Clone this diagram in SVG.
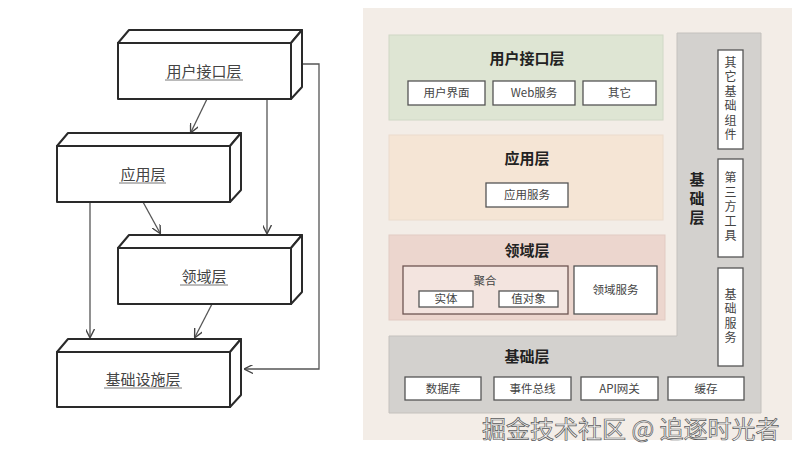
<svg xmlns="http://www.w3.org/2000/svg" width="807" height="459" viewBox="0 0 807 459">
<defs>
<style>
.cjk{font-family:"Noto Sans CJK SC","Liberation Sans",sans-serif}
.box3d{fill:#fff;stroke:#2a2a2a;stroke-width:2;stroke-linejoin:round}
.ltxt{font-size:15px;fill:#444;text-anchor:middle}
.ul{stroke:#777;stroke-width:1}
.conn{fill:none;stroke:#555;stroke-width:1.3}
.ttl{font-size:15px;font-weight:bold;fill:#222;text-anchor:middle}
.sb{fill:#fff;stroke:#555;stroke-width:1.3}
.st{font-size:11.5px;fill:#444;text-anchor:middle}
.vt{font-size:12px;fill:#444;text-anchor:middle;writing-mode:vertical-rl;letter-spacing:2.5px}
</style>
<marker id="arr" viewBox="0 0 10 10" refX="9" refY="5" markerWidth="9" markerHeight="9" orient="auto" markerUnits="userSpaceOnUse">
<path d="M0,0 L10,5 L0,10" fill="none" stroke="#444" stroke-width="1.5"/>
</marker>
</defs>
<rect width="807" height="459" fill="#fff"/>

<!-- Left: layered architecture -->
<g id="connectors" class="conn">
<line x1="207" y1="99" x2="191" y2="132" marker-end="url(#arr)"/>
<line x1="267" y1="99" x2="267" y2="233" marker-end="url(#arr)"/>
<polyline points="302,64 319,64 319,369 245,369" marker-end="url(#arr)"/>
<line x1="90" y1="202" x2="90" y2="337" marker-end="url(#arr)"/>
<line x1="143" y1="202" x2="160" y2="233" marker-end="url(#arr)"/>
<line x1="212" y1="304" x2="195" y2="337" marker-end="url(#arr)"/>
</g>

<g id="node-ui" class="cjk">
<path class="box3d" d="M118,43 L129,30 L302,30 L291,43 Z"/>
<path class="box3d" d="M291,43 L302,30 L302,87 L291,99 Z"/>
<rect class="box3d" x="118" y="43" width="173" height="56"/>
<text class="ltxt" x="204" y="77">用户接口层</text>
<line class="ul" x1="165" y1="80" x2="243" y2="80"/>
</g>

<g id="node-app" class="cjk">
<path class="box3d" d="M57,146 L68,133 L241,133 L230,146 Z"/>
<path class="box3d" d="M230,146 L241,133 L241,190 L230,202 Z"/>
<rect class="box3d" x="57" y="146" width="173" height="56"/>
<text class="ltxt" x="143" y="180">应用层</text>
<line class="ul" x1="119" y1="183" x2="166" y2="183"/>
</g>

<g id="node-domain" class="cjk">
<path class="box3d" d="M118,248 L129,235 L302,235 L291,248 Z"/>
<path class="box3d" d="M291,248 L302,235 L302,292 L291,304 Z"/>
<rect class="box3d" x="118" y="248" width="173" height="56"/>
<text class="ltxt" x="204" y="282">领域层</text>
<line class="ul" x1="180" y1="285" x2="228" y2="285"/>
</g>

<g id="node-infra" class="cjk">
<path class="box3d" d="M57,352 L68,339 L241,339 L230,352 Z"/>
<path class="box3d" d="M230,352 L241,339 L241,395 L230,407 Z"/>
<rect class="box3d" x="57" y="352" width="173" height="55"/>
<text class="ltxt" x="143" y="385">基础设施层</text>
<line class="ul" x1="104" y1="388" x2="182" y2="388"/>
</g>

<!-- Right: DDD layered panel -->
<g id="panel">
<rect x="363" y="8" width="429" height="432" fill="#f3ede7"/>
<path d="M677,33 L761,33 L761,413 L389,413 L389,336 L677,336 Z" fill="#d3d1ce" stroke="#c4c1bd" stroke-width="1"/>
</g>

<g id="layer-ui" class="cjk">
<rect x="389" y="35" width="274" height="85" fill="#dee5d3" stroke="#d0d8c6" stroke-width="1"/>
<text class="ttl" x="527" y="64">用户接口层</text>
<rect class="sb" x="408" y="81" width="77" height="24"/>
<text class="st" x="446.5" y="97">用户界面</text>
<rect class="sb" x="493" y="81" width="82" height="24"/>
<text class="st" x="534" y="97">Web服务</text>
<rect class="sb" x="583" y="81" width="73" height="24"/>
<text class="st" x="619.5" y="97">其它</text>
</g>

<g id="layer-app" class="cjk">
<rect x="389" y="135" width="274" height="85" fill="#f5e5d5" stroke="#ebdccd" stroke-width="1"/>
<text class="ttl" x="527" y="164">应用层</text>
<rect class="sb" x="486" y="183" width="82" height="24"/>
<text class="st" x="527" y="199">应用服务</text>
</g>

<g id="layer-domain" class="cjk">
<rect x="389" y="235" width="276" height="85" fill="#ecd6ce" stroke="#e2cbc3" stroke-width="1"/>
<text class="ttl" x="527" y="256">领域层</text>
<rect x="403" y="266" width="165" height="48" fill="#f3e4df" stroke="#6e5552" stroke-width="1.3"/>
<text class="st" x="485" y="285">聚合</text>
<rect class="sb" x="419" y="291" width="54" height="16"/>
<text class="st" x="446" y="303">实体</text>
<rect class="sb" x="499" y="291" width="59" height="16"/>
<text class="st" x="528.5" y="303">值对象</text>
<rect class="sb" x="574" y="266" width="83" height="48"/>
<text class="st" x="615.5" y="294">领域服务</text>
</g>

<g id="layer-infra" class="cjk">
<text class="ttl" x="527" y="362">基础层</text>
<rect class="sb" x="405" y="377" width="76" height="23"/>
<text class="st" x="443" y="392.5">数据库</text>
<rect class="sb" x="494" y="377" width="77" height="23"/>
<text class="st" x="532.5" y="392.5">事件总线</text>
<rect class="sb" x="581" y="377" width="77" height="23"/>
<text class="st" x="619.5" y="392.5">API网关</text>
<rect class="sb" x="668" y="377" width="76" height="23"/>
<text class="st" x="706" y="392.5">缓存</text>
<text class="ttl" x="697" y="200" font-size="16" style="writing-mode:vertical-rl;letter-spacing:4px">基础层</text>
<rect class="sb" x="718" y="50" width="25" height="99"/>
<text class="vt" x="730.5" y="99.5">其它基础组件</text>
<rect class="sb" x="718" y="159" width="25" height="98"/>
<text class="vt" x="730.5" y="208">第三方工具</text>
<rect class="sb" x="718" y="268" width="25" height="98"/>
<text class="vt" x="730.5" y="317">基础服务</text>
</g>

<text class="cjk" x="482" y="438" font-size="24" fill="#f2f2f2" stroke="#5a5a5a" stroke-width="0.7">掘金技术社区 @ 追逐时光者</text>
</svg>
